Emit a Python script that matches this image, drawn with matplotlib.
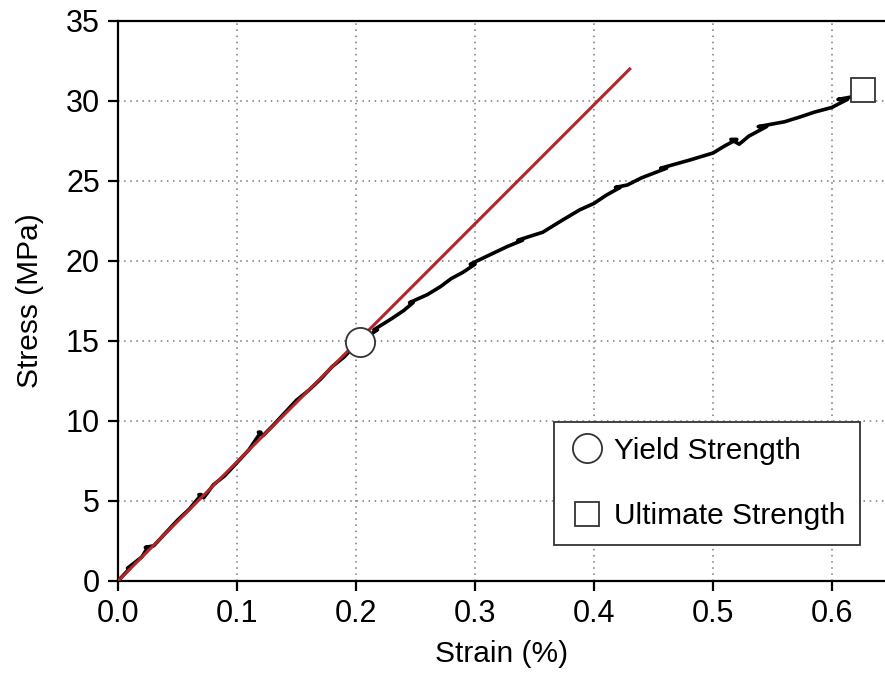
import numpy as np
from matplotlib import pyplot as plt

strain = [0.0, 0.01, 0.008, 0.02, 0.025, 0.023, 0.03, 0.04, 0.05, 0.06,
          0.07, 0.068, 0.072, 0.08, 0.09, 0.1, 0.11, 0.12, 0.118, 0.122,
          0.13, 0.14, 0.15, 0.16, 0.17, 0.18, 0.19, 0.2, 0.21, 0.218,
          0.215, 0.23, 0.24, 0.248, 0.245, 0.26, 0.271, 0.28, 0.29, 0.3,
          0.296, 0.31, 0.327, 0.34, 0.336, 0.357, 0.37, 0.388, 0.4, 0.41,
          0.422, 0.418, 0.428, 0.44, 0.461, 0.456, 0.48, 0.5, 0.51, 0.52,
          0.515, 0.522, 0.53, 0.545, 0.538, 0.56, 0.573, 0.585, 0.6, 0.605,
          0.613, 0.605, 0.62]
stress = [0.0, 0.8, 0.8, 1.5, 2.1, 2.1, 2.2, 3.0, 3.8, 4.5,
          5.4, 5.4, 5.2, 6.0, 6.6, 7.4, 8.2, 9.3, 9.3, 9.1,
          9.7, 10.5, 11.3, 11.9, 12.6, 13.4, 14.0, 14.8, 15.3, 15.7,
          15.7, 16.4, 16.9, 17.4, 17.4, 17.9, 18.4, 18.9, 19.3, 19.8,
          19.8, 20.3, 20.9, 21.3, 21.3, 21.8, 22.4, 23.2, 23.6, 24.1,
          24.6, 24.6, 24.75, 25.2, 25.8, 25.8, 26.3, 26.75, 27.2, 27.6,
          27.6, 27.3, 27.8, 28.4, 28.4, 28.7, 29.0, 29.3, 29.6, 29.8,
          30.1, 30.1, 30.3]

# elastic (linear) fit line
fit_strain = [0.0, 0.43]
fit_stress = [0.0, 32.0]

# key points
yield_pt = (0.203, 14.95)
ultimate_pt = (0.626, 30.7)

plt.rcParams['font.family'] = ['Liberation Sans', 'DejaVu Sans']

fig = plt.figure(figsize=(8.85, 6.8), dpi=100)
ax = fig.add_axes([118/885, 99/680, 767/885, 560/680])

ax.plot(strain, stress, color='black', lw=2.6, zorder=3)
ax.plot(fit_strain, fit_stress, color='#b5232b', lw=2.2, zorder=4)

ax.plot(yield_pt[0], yield_pt[1], 'o', ms=21, mfc='white', mec='#333333',
        mew=1.3, zorder=5, label='Yield Strength')
ax.plot(ultimate_pt[0], ultimate_pt[1], 's', ms=17, mfc='white', mec='#333333',
        mew=1.3, zorder=5, label='Ultimate Strength', clip_on=False)

ax.set_xlim(0, 0.6445)
ax.set_ylim(0, 35)
ax.set_xticks(np.arange(0, 0.61, 0.1))
ax.set_xticklabels(['0.0', '0.1', '0.2', '0.3', '0.4', '0.5', '0.6'])
ax.set_yticks(np.arange(0, 36, 5))

ax.grid(True, linestyle=(0, (1, 3)), color='#777777', lw=1.1)
ax.set_axisbelow(True)

ax.spines['right'].set_visible(False)
for s in ['left', 'bottom', 'top']:
    ax.spines[s].set_linewidth(1.6)
ax.tick_params(direction='out', length=7, width=1.6, labelsize=22, pad=6)

ax.set_xlabel('Strain (%)', fontsize=21.5, labelpad=8)
ax.set_ylabel('Stress (MPa)', fontsize=21.5, labelpad=16)

leg = ax.legend(loc='lower left', bbox_to_anchor=(0.5685, 0.0643),
                borderaxespad=0, fontsize=21.5, frameon=True, fancybox=False,
                edgecolor='#333333', labelspacing=1.25, handletextpad=0.3,
                handlelength=1.2, borderpad=0.5, markerscale=1.0)
leg.get_frame().set_linewidth(1.3)
leg.get_frame().set_alpha(1)

fig.savefig('out.png', dpi=100)
